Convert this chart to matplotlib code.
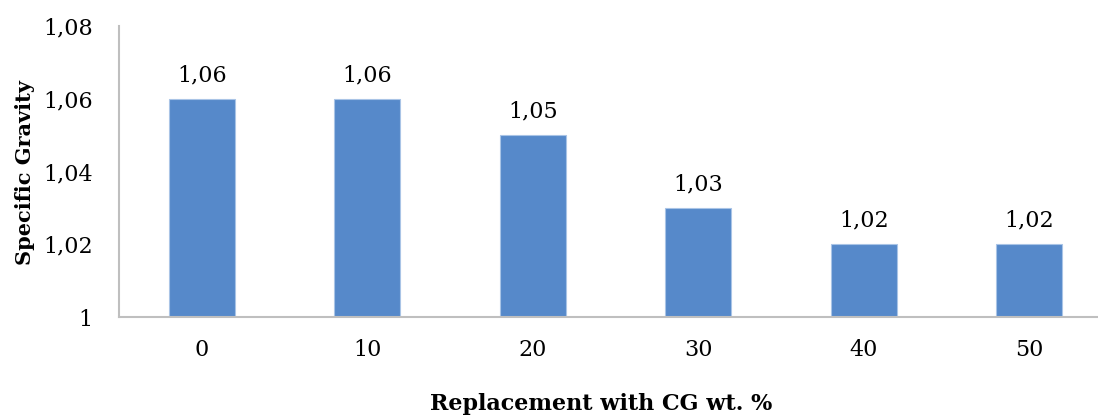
import matplotlib
matplotlib.use("Agg")
import matplotlib.pyplot as plt
from matplotlib.ticker import FuncFormatter

categories = ["0", "10", "20", "30", "40", "50"]
values = [1.06, 1.06, 1.05, 1.03, 1.02, 1.02]
value_labels = ["1,06", "1,06", "1,05", "1,03", "1,02", "1,02"]
yticks = [1.00, 1.02, 1.04, 1.06, 1.08]

plt.rcParams['font.family'] = ['DejaVu Serif']

fig = plt.figure(figsize=(10.98, 4.17), dpi=100)
ax = fig.add_axes([119/1098, 1 - 317/417, 6*165.5/1098, (317-26)/417])

x = list(range(len(categories)))
ax.bar(x, [v - 1.0 for v in values], bottom=1.0, width=0.4, color="#5689CA",
       edgecolor="#A9C4E6", linewidth=0.8, zorder=2)
for xi, v, lab in zip(x, values, value_labels):
    ax.annotate(lab, (xi, v), xytext=(0, 9), textcoords="offset points",
                ha="center", va="bottom", fontsize=16, color="black")

ax.set_xlim(-0.5, 5.5)
ax.set_ylim(1.0, 1.08)
ax.set_yticks(yticks)
ax.yaxis.set_major_formatter(FuncFormatter(
    lambda v, p: "1" if abs(v - 1) < 1e-9 else f"{v:.2f}".replace(".", ",")))
ax.set_xticks(x)
ax.set_xticklabels(categories)
ax.tick_params(axis="both", length=0, labelsize=16, colors="black")
ax.tick_params(axis="x", pad=16)
ax.tick_params(axis="y", pad=19)

for s in ["top", "right"]:
    ax.spines[s].set_visible(False)
for s in ["left", "bottom"]:
    ax.spines[s].set_color("#BFBFBF")
    ax.spines[s].set_linewidth(1.5)

fig.text(25/1098, 1 - 173/417, "Specific Gravity", rotation=90, ha="center",
         va="center", fontsize=15, fontweight="bold")
fig.text(601/1098, 1 - 404/417, "Replacement with CG wt. %", ha="center",
         va="center", fontsize=16, fontweight="bold")

fig.savefig("out.png", dpi=100)
